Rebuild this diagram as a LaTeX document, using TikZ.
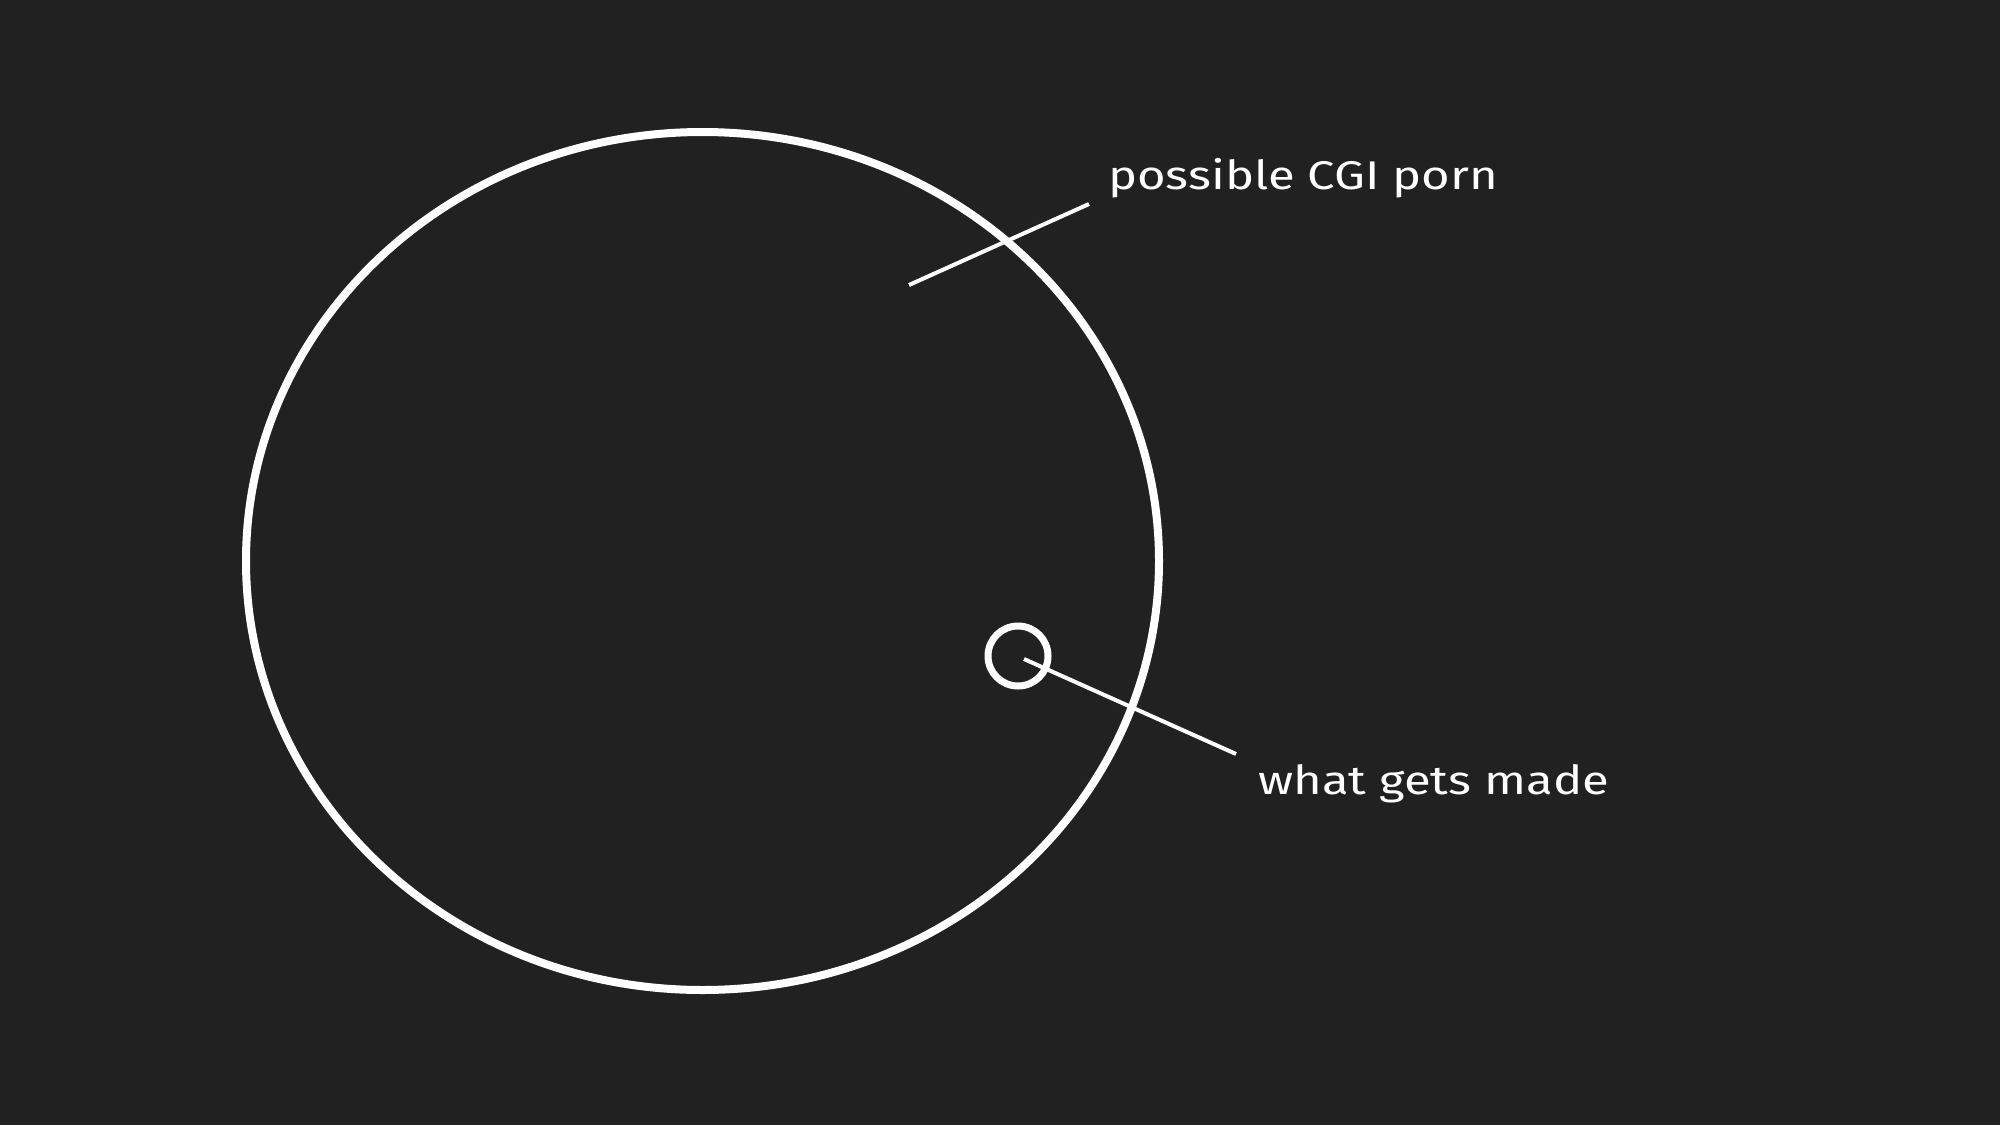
\documentclass[tikz,border=0pt]{standalone}
\usepackage{fontspec}
\setmainfont{Fira Sans}
\usetikzlibrary{shapes.geometric}
\definecolor{bg}{RGB}{33,33,33}
\begin{document}
\begin{tikzpicture}[x=1pt,y=-1pt,
  ring/.style={draw=white,line width=8pt,inner sep=0pt,outer sep=0pt},
  leader/.style={draw=white,line width=4pt},
  lbl/.style={text=white,font=\fontsize{40}{48}\selectfont,anchor=base west,inner sep=0pt,xscale=1.225}]
\fill[bg] (0,0) rectangle (2000,1125);
\useasboundingbox (0,0) rectangle (2000,1125);
\node[ring,ellipse,minimum width=913pt,minimum height=858pt] (all) at (702.5,561) {};
\node[ring,circle,line width=7pt,minimum size=60pt] (made) at (1018,656) {};
\node[lbl] (possible) at (1108,189) {possible CGI porn};
\node[lbl] (what) at (1258,794) {what gets made};
\coordinate (p1) at (909,285);
\coordinate (p2) at (1089,204);
\coordinate (w1) at (1024,659);
\coordinate (w2) at (1236,754);
\draw[leader] (p1) -- (p2);
\draw[leader] (w1) -- (w2);
\end{tikzpicture}
\end{document}
